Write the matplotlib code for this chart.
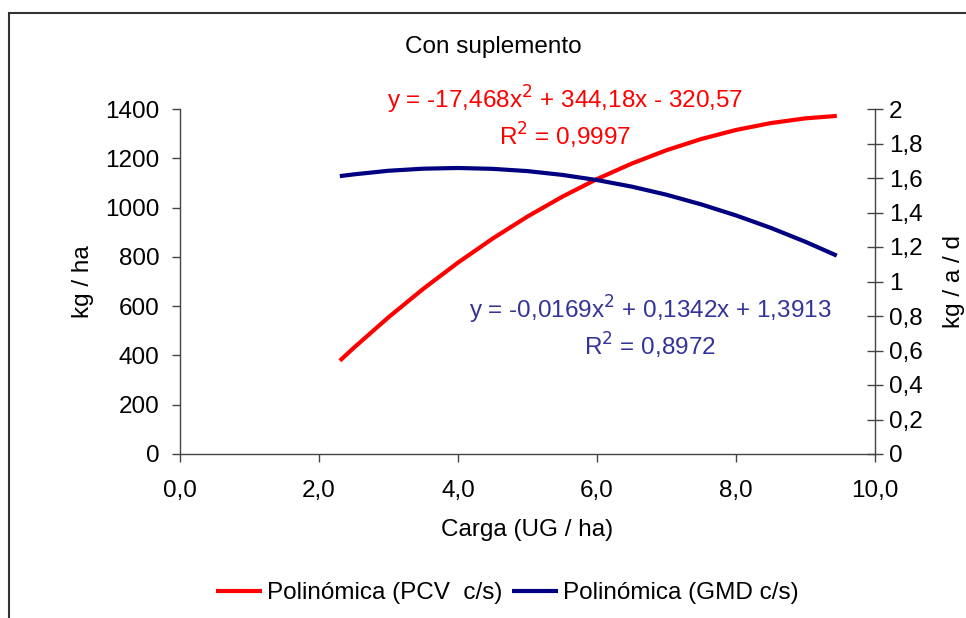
import matplotlib.pyplot as plt
from matplotlib.patches import Rectangle
from matplotlib.ticker import FixedLocator, FuncFormatter

plt.rcParams['font.family'] = ['Liberation Sans', 'DejaVu Sans']

# Carga (UG / ha) sampled along the fitted trendlines
carga = [2.3, 2.5, 3.0, 3.5, 4.0, 4.5, 5.0, 5.5, 6.0, 6.5, 7.0, 7.5, 8.0, 8.5, 9.0, 9.45]
# PCV c/s, kg / ha (left axis)
pcv = [378.6, 430.7, 554.8, 670.1, 776.7, 874.5, 963.6, 1044.0, 1115.7,
       1178.6, 1232.8, 1278.2, 1314.9, 1342.8, 1362.1, 1371.9]
# GMD c/s, kg / a / d (right axis)
gmd = [1.611, 1.621, 1.642, 1.654, 1.658, 1.653, 1.640, 1.618, 1.588,
       1.550, 1.503, 1.447, 1.383, 1.311, 1.230, 1.150]

x_ticks = [0, 2, 4, 6, 8, 10]
left_ticks = [0, 200, 400, 600, 800, 1000, 1200, 1400]
right_ticks = [0, 0.2, 0.4, 0.6, 0.8, 1.0, 1.2, 1.4, 1.6, 1.8, 2.0]

eq_pcv = 'y = -17,468x$^2$ + 344,18x - 320,57\nR$^2$ = 0,9997'
eq_gmd = 'y = -0,0169x$^2$ + 0,1342x + 1,3913\nR$^2$ = 0,8972'

fig = plt.figure(figsize=(9.66, 6.18), dpi=100)
fig.patches.append(Rectangle((9 / 966, -0.1), 1.2, 1 - 13 / 618 + 0.1,
                             transform=fig.transFigure, fill=False,
                             edgecolor='#333333', linewidth=1.5))

ax = fig.add_axes([180 / 966, 164 / 618, 695 / 966, 345 / 618])
ax2 = ax.twinx()

fs = 17.5
axis_col = '#444444'

l1, = ax.plot(carga, pcv, color='#FF0000', linewidth=3, solid_capstyle='butt',
              label='Polinómica (PCV  c/s)')
l2, = ax2.plot(carga, gmd, color='#000080', linewidth=3, solid_capstyle='butt',
               label='Polinómica (GMD c/s)')

ax.set_xlim(0, 10)
ax.set_ylim(0, 1400)
ax2.set_ylim(0, 2)

ax.xaxis.set_major_locator(FixedLocator(x_ticks))
ax.xaxis.set_major_formatter(FuncFormatter(lambda v, p: f'{v:.1f}'.replace('.', ',')))
ax.yaxis.set_major_locator(FixedLocator(left_ticks))
ax2.yaxis.set_major_locator(FixedLocator(right_ticks))
ax2.yaxis.set_major_formatter(FuncFormatter(lambda v, p: f'{v:g}'.replace('.', ',')))

for a in (ax, ax2):
    a.spines['top'].set_visible(False)
    for s in a.spines.values():
        s.set_color(axis_col)
        s.set_linewidth(1)
ax.spines['right'].set_visible(False)
ax2.spines['left'].set_visible(False)
ax2.spines['bottom'].set_visible(False)

ax.tick_params(axis='x', direction='out', length=6, width=1, color=axis_col,
               labelsize=fs, pad=13)
ax.tick_params(axis='y', direction='out', length=6, width=1, color=axis_col,
               labelsize=fs, pad=9)
ax2.tick_params(axis='y', direction='inout', length=12, width=1, color=axis_col,
                labelsize=fs, pad=4)

ax.set_xlabel('Carga (UG / ha)', fontsize=fs, labelpad=12)
ax.set_ylabel('kg / ha', fontsize=fs, labelpad=8)
ax2.set_ylabel('kg / a / d', fontsize=fs, labelpad=15)

fig.text(493 / 966, 1 - 47 / 618, 'Con suplemento', fontsize=fs,
         ha='center', va='center')
fig.text(565 / 966, 1 - 117 / 618, eq_pcv, color='#FF0000', fontsize=fs,
         ha='center', va='center', linespacing=1.2)
fig.text(650 / 966, 1 - 327 / 618, eq_gmd, color='#333399', fontsize=fs,
         ha='center', va='center', linespacing=1.2)

fig.legend(handles=[l1, l2], loc='center', bbox_to_anchor=(507 / 966, 1 - 593 / 618),
           ncol=2, frameon=False, fontsize=fs, handlelength=1.9,
           handletextpad=0.2, columnspacing=0.4)

fig.savefig('out.png', dpi=100)
